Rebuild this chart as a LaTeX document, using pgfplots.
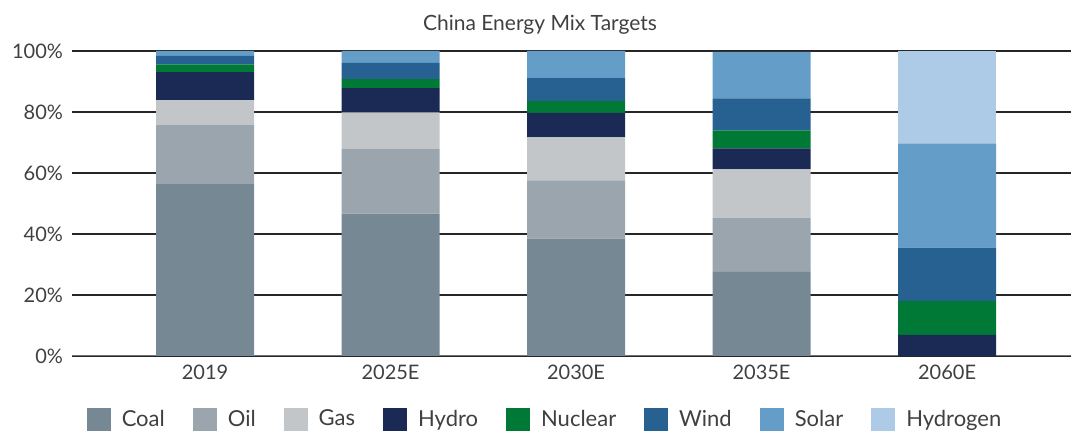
\documentclass[border=0pt]{standalone}
\usepackage{fontspec}
\setmainfont{Lato}
\usepackage{pgfplots}
\pgfplotsset{compat=1.18}

\definecolor{cCoal}{HTML}{778895}
\definecolor{cOil}{HTML}{9AA5AE}
\definecolor{cGas}{HTML}{C2C6C9}
\definecolor{cHydro}{HTML}{1A2A54}
\definecolor{cNuclear}{HTML}{007836}
\definecolor{cWind}{HTML}{266192}
\definecolor{cSolar}{HTML}{659DC9}
\definecolor{cHydrogen}{HTML}{ADCBE7}
\definecolor{txt}{HTML}{404040}

\begin{document}
\begin{tikzpicture}
\begin{axis}[
    name=a,
    at={(0,0)}, anchor=south west,
    scale only axis,
    width=499.5pt, height=152.5pt,
    ybar stacked, bar width=49pt,
    xmin=-0.717, xmax=4.668,
    ymin=0, ymax=100,
    xtick={0,1,2,3,4},
    xticklabels={2019,2025E,2030E,2035E,2060E},
    ytick={0,20,40,60,80,100},
    yticklabel={\pgfmathprintnumber{\tick}\%},
    /pgf/number format/assume math mode=true,
    ymajorgrids,
    grid style={black!85, line width=0.6pt},
    axis line style={draw=none},
    major tick length=0pt,
    tick style={draw=none},
    ticklabel style={font=\fontsize{10}{12}\selectfont, text=txt},
    yticklabel style={xshift=-1pt},
    xticklabel style={yshift=-1pt},
    every axis plot/.append style={draw=none},
    legend columns=8,
    legend image code/.code={\fill[#1] (0pt,-5.75pt) rectangle (12pt,5.75pt);},
    legend style={draw=none, at={(0.4745,0)}, anchor=center, yshift=-31.75pt,
        font=\fontsize{11}{13}\selectfont, text=txt,
        /tikz/every odd column/.append style={column sep=3.5pt},
        /tikz/every even column/.append style={column sep=12pt}},
]
\addplot+[fill=cCoal] coordinates {(0,56.6) (1,46.7) (2,38.5) (3,27.6) (4,0)};
\addplot+[fill=cOil] coordinates {(0,19.1) (1,21.1) (2,19.1) (3,17.8) (4,0)};
\addplot+[fill=cGas] coordinates {(0,8.2) (1,12.1) (2,14.1) (3,15.8) (4,0)};
\addplot+[fill=cHydro] coordinates {(0,9.2) (1,7.9) (2,8.0) (3,6.9) (4,6.9)};
\addplot+[fill=cNuclear] coordinates {(0,2.5) (1,3.0) (2,3.9) (3,5.9) (4,11.2)};
\addplot+[fill=cWind] coordinates {(0,2.8) (1,5.3) (2,7.5) (3,10.5) (4,17.4)};
\addplot+[fill=cSolar] coordinates {(0,1.6) (1,3.9) (2,8.9) (3,15.2) (4,34.2)};
\addplot+[fill=cHydrogen] coordinates {(0,0) (1,0) (2,0) (3,0) (4,30.3)};
\legend{Coal,Oil,Gas,Hydro,Nuclear,Wind,Solar,Hydrogen}
\draw[black!55, line width=1pt] (rel axis cs:0,0) -- (rel axis cs:1,0);
\end{axis}
\node[text=txt, font=\fontsize{10.5}{12}\selectfont] at ([shift={(234pt,13pt)}]a.north west) {China Energy Mix Targets};
\pgfresetboundingbox
\path[use as bounding box] ([shift={(-36pt,-37.5pt)}]a.south west) rectangle ++(535.5pt,215.5pt);
\end{tikzpicture}
\end{document}
